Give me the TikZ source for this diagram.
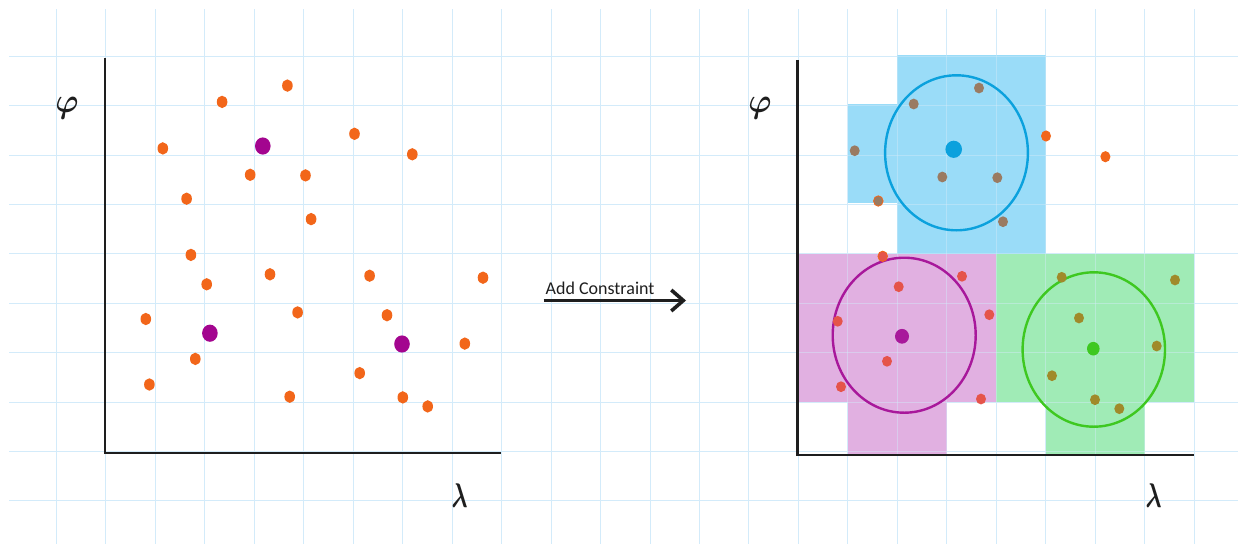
\documentclass[tikz,border=0pt]{standalone}
\usepackage{amsmath}
\usepackage{fontspec}
\newfontfamily\calib{Carlito}
\usetikzlibrary{arrows.meta}
\definecolor{gridc}{HTML}{D3EBFA}
\definecolor{axisc}{HTML}{1E1E1E}
\definecolor{orangec}{HTML}{F2661A}
\definecolor{purplec}{HTML}{A3058F}
\definecolor{bluefill}{HTML}{9ADCF8}
\definecolor{purplefill}{HTML}{E1B0E1}
\definecolor{greenfill}{HTML}{A0EBB6}
\definecolor{bluering}{HTML}{0BA1DD}
\definecolor{purplering}{HTML}{A8189B}
\definecolor{greenring}{HTML}{3EC820}
\definecolor{brownc}{HTML}{9A7B62}
\definecolor{redc}{HTML}{E5544A}
\definecolor{olivec}{HTML}{A08A2A}
\tikzset{
  gridline/.style={gridc, line width=1pt},
  axisline/.style={axisc, line width=2.6pt},
  axlabel/.style={inner sep=0pt, text=axisc, font=\fontsize{20.74}{24}\selectfont},
  ring/.style={line width=2.4pt},
}
\newcommand{\phiLabel}{\scalebox{1.5}[1.65]{$\boldsymbol{\varphi}$}}
\newcommand{\lamLabel}{\scalebox{1.15}[1.65]{$\boldsymbol{\lambda}$}}
\begin{document}
\begin{tikzpicture}[x=1pt,y=-1pt]
\useasboundingbox (0,0) rectangle (1238,544);
\fill[white] (0,0) rectangle (1238,544);
% grid
\foreach \i in {0,...,23} \draw[gridline] ({56.4+49.47*\i},9) -- ({56.4+49.47*\i},544);
\foreach \j in {0,...,9} \draw[gridline] (9,{56.2+49.4*\j}) -- (1238,{56.2+49.4*\j});
% region fills (right panel)
\fill[bluefill] (897.4,55) rectangle (1045.8,253.8);
\fill[bluefill] (847.9,104) rectangle (897.4,203);
\fill[purplefill] (798.5,253.8) rectangle (996.3,402);
\fill[purplefill] (847.9,402) rectangle (946.9,455);
\fill[greenfill] (996.3,253.8) rectangle (1194.2,402);
\fill[greenfill] (1045.8,402) rectangle (1144.7,455);
% grid over fills, faint
\begin{scope}[opacity=0.45]
\foreach \i in {15,...,23} \draw[gridline] ({56.4+49.47*\i},55) -- ({56.4+49.47*\i},455);
\foreach \j in {0,...,8} \draw[gridline] (798,{56.2+49.4*\j}) -- (1195,{56.2+49.4*\j});
\end{scope}
% left panel axes
\coordinate (lo) at (105,453);
\coordinate (ly) at (105,58);
\coordinate (lx) at (501,453);
\draw[axisline] (ly) -- (lo) -- (lx);
\node[axlabel] (lphi) at (67,108) {\phiLabel};
\node[axlabel] (llam) at (459.7,496) {\lamLabel};
% left panel points
\foreach \x/\y in {287.4/85.6, 222.1/101.9, 354.5/133.8, 162.8/148.4, 412.3/154.3, 250.2/174.8, 305.5/175.4, 186.6/198.7, 311.1/219.1, 190.9/254.9, 270/274.3, 369.6/275.7, 483/277.7, 206.7/284.3, 297.6/312.4, 387/315.2, 145.8/319, 464.8/343.6, 195.3/358.9, 359.7/373.1, 149.4/384.5, 289.7/396.7, 402.8/397.4, 427.7/406.4}
  \fill[orangec] (\x,\y) ellipse [x radius=5.3pt, y radius=6.2pt];
\foreach \x/\y in {262.8/146, 209.9/333.2, 402/344}
  \fill[purplec] (\x,\y) ellipse [x radius=7.8pt, y radius=8.6pt];
% arrow
\coordinate (a1) at (543.5,300.5);
\coordinate (a2) at (686,300.5);
\draw[axisc, line width=3.6pt, -{Straight Barb[length=12pt,width=21pt]}] (a1) -- (a2);
\node[anchor=base west, inner sep=0pt, text=axisc, font=\calib\fontsize{18}{20}\selectfont] (lab) at (545.5,294) {Add Constraint};
% right panel axes
\coordinate (ro) at (797.5,455);
\coordinate (ry) at (797.5,60);
\coordinate (rx) at (1194,455);
\draw[axisline] (ry) -- (ro) -- (rx);
\node[axlabel] (rphi) at (760,108) {\phiLabel};
\node[axlabel] (rlam) at (1153.5,496) {\lamLabel};
% rings
\draw[ring, bluering] (956.5,152.8) ellipse [x radius=71.4pt, y radius=77.5pt];
\draw[ring, purplering] (904.2,335.2) ellipse [x radius=71.5pt, y radius=77.5pt];
\draw[ring, greenring] (1093.8,349.5) ellipse [x radius=71.2pt, y radius=77.2pt];
% right panel points
\foreach \x/\y in {979/88, 913.7/104, 854.7/150.7, 942.3/177, 997.3/177.7, 1003/221.7}
  \fill[brownc] (\x,\y) ellipse [x radius=5pt, y radius=5.4pt];
\fill[brownc, draw=orangec, line width=0.8pt] (878.3,201) ellipse [x radius=4.8pt, y radius=5.2pt];
\foreach \x/\y in {1046/136, 1105.4/156.7}
  \fill[orangec] (\x,\y) ellipse [x radius=5pt, y radius=5.6pt];
\foreach \x/\y in {962/276.3, 898.7/286.7, 837.7/321.3, 989.3/314.7, 887/361.3, 841/386.7, 981/399}
  \fill[redc] (\x,\y) ellipse [x radius=5pt, y radius=5.4pt];
\fill[redc, draw=orangec, line width=0.8pt] (882.7,256.3) ellipse [x radius=4.8pt, y radius=5.2pt];
\foreach \x/\y in {1061.7/277.3, 1175/280, 1079/318, 1156.7/346, 1052/375.7, 1095/399.7, 1119.3/408.7}
  \fill[olivec] (\x,\y) ellipse [x radius=5pt, y radius=5.4pt];
% centroids
\fill[bluering] (953.7,149.3) ellipse [x radius=8.3pt, y radius=8.6pt];
\fill[purplering] (902,336.3) ellipse [x radius=7pt, y radius=7.4pt];
\fill[greenring] (1093.3,348.7) ellipse [x radius=6.3pt, y radius=6.8pt];
\end{tikzpicture}
\end{document}
